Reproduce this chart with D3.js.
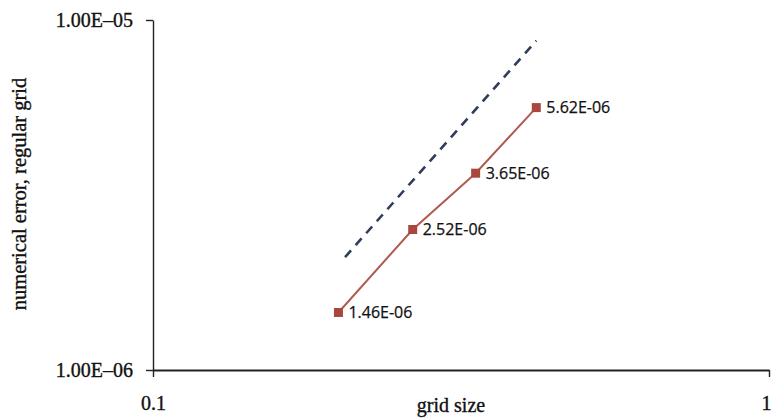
<!DOCTYPE html>
<html>
<head>
<meta charset="utf-8">
<script src="https://cdn.jsdelivr.net/npm/d3@7/dist/d3.min.js"></script>
<style>
  html, body { margin: 0; padding: 0; background: #fff; }
  svg { display: block; }
</style>
</head>
<body>
<svg id="chart" width="771" height="419"></svg>
<script>
// Convergence of the numerical error on a regular grid (log-log)
const gridSize = [0.2, 0.264, 0.334, 0.419];
const errorValues = [1.46e-6, 2.52e-6, 3.65e-6, 5.62e-6];
const errorLabels = ["1.46E-06", "2.52E-06", "3.65E-06", "5.62E-06"];

// second-order slope guide
const guideX = [0.205, 0.419];
const guideY = [2.1e-6, 8.73e-6];

const xTicks = [0.1, 1];
const xTickLabels = ["0.1", "1"];
const yTicks = [1e-6, 1e-5];
const yTickLabels = ["1.00E\u201306", "1.00E\u201305"];

const svg = d3.select("#chart");

const x = d3.scaleLog().domain([0.1, 1]).range([153, 769]);
const y = d3.scaleLog().domain([1e-6, 1e-5]).range([370, 20]);

const serif = "'Liberation Serif', 'Times New Roman', serif";

function serifText(sel) {
  sel.attr("fill", "#111")
    .attr("stroke", "#111")
    .attr("stroke-width", 0.35)
    .style("font-family", serif)
    .style("font-size", "20px");
}

// y axis
const yAxis = svg.append("g")
  .attr("transform", `translate(${x(0.1)},0)`)
  .call(d3.axisLeft(y).tickValues(yTicks).tickSize(7).tickSizeOuter(0)
    .tickFormat((d, i) => yTickLabels[i]));
yAxis.select(".domain").attr("stroke", "#222").attr("stroke-width", 1.4);
yAxis.selectAll(".tick line").attr("stroke", "#222").attr("stroke-width", 1.4);
yAxis.selectAll(".tick text").attr("x", -20).call(serifText);

// x axis
const xAxis = svg.append("g")
  .attr("transform", `translate(0,${y(1e-6)})`)
  .call(d3.axisBottom(x).tickValues(xTicks).tickSize(7).tickSizeOuter(0)
    .tickFormat((d, i) => xTickLabels[i]));
xAxis.select(".domain").attr("stroke", "#222").attr("stroke-width", 2.2);
xAxis.selectAll(".tick line").attr("stroke", "#222").attr("stroke-width", 1.4);
xAxis.selectAll(".tick text").attr("y", 26).call(serifText);
// keep the last tick label inside the frame
xAxis.selectAll(".tick text")
  .filter(d => d === 1)
  .attr("text-anchor", "end")
  .attr("x", 2);

// axis titles
svg.append("text")
  .attr("x", 451).attr("y", 412)
  .attr("text-anchor", "middle")
  .call(serifText)
  .text("grid size");

svg.append("text")
  .attr("transform", "translate(26,194) rotate(-90)")
  .attr("text-anchor", "middle")
  .call(serifText)
  .style("font-size", "20.5px")
  .text("numerical error, regular grid");

// slope guide
svg.append("path")
  .datum(guideX.map((v, i) => [v, guideY[i]]))
  .attr("fill", "none")
  .attr("stroke", "#2f3c5c")
  .attr("stroke-width", 2.6)
  .attr("stroke-dasharray", "9,7")
  .attr("d", d3.line().x(d => x(d[0])).y(d => y(d[1])));

// error series
const pts = gridSize.map((v, i) => ({ x: v, y: errorValues[i], label: errorLabels[i] }));

svg.append("path")
  .datum(pts)
  .attr("fill", "none")
  .attr("stroke", "#b35a50")
  .attr("stroke-width", 2)
  .attr("d", d3.line().x(d => x(d.x)).y(d => y(d.y)));

svg.selectAll("rect.marker")
  .data(pts)
  .join("rect")
  .attr("class", "marker")
  .attr("x", d => x(d.x) - 4.5)
  .attr("y", d => y(d.y) - 4.5)
  .attr("width", 9)
  .attr("height", 9)
  .attr("fill", "#a9473f");

svg.selectAll("text.value")
  .data(pts)
  .join("text")
  .attr("class", "value")
  .attr("x", d => x(d.x) + 10)
  .attr("y", d => y(d.y) + 5.5)
  .attr("fill", "#111")
  .attr("stroke", "#111")
  .attr("stroke-width", 0.25)
  .style("font-family", "'Open Sans', 'Liberation Sans', sans-serif")
  .style("font-size", "16px")
  .text(d => d.label);
</script>
</body>
</html>
